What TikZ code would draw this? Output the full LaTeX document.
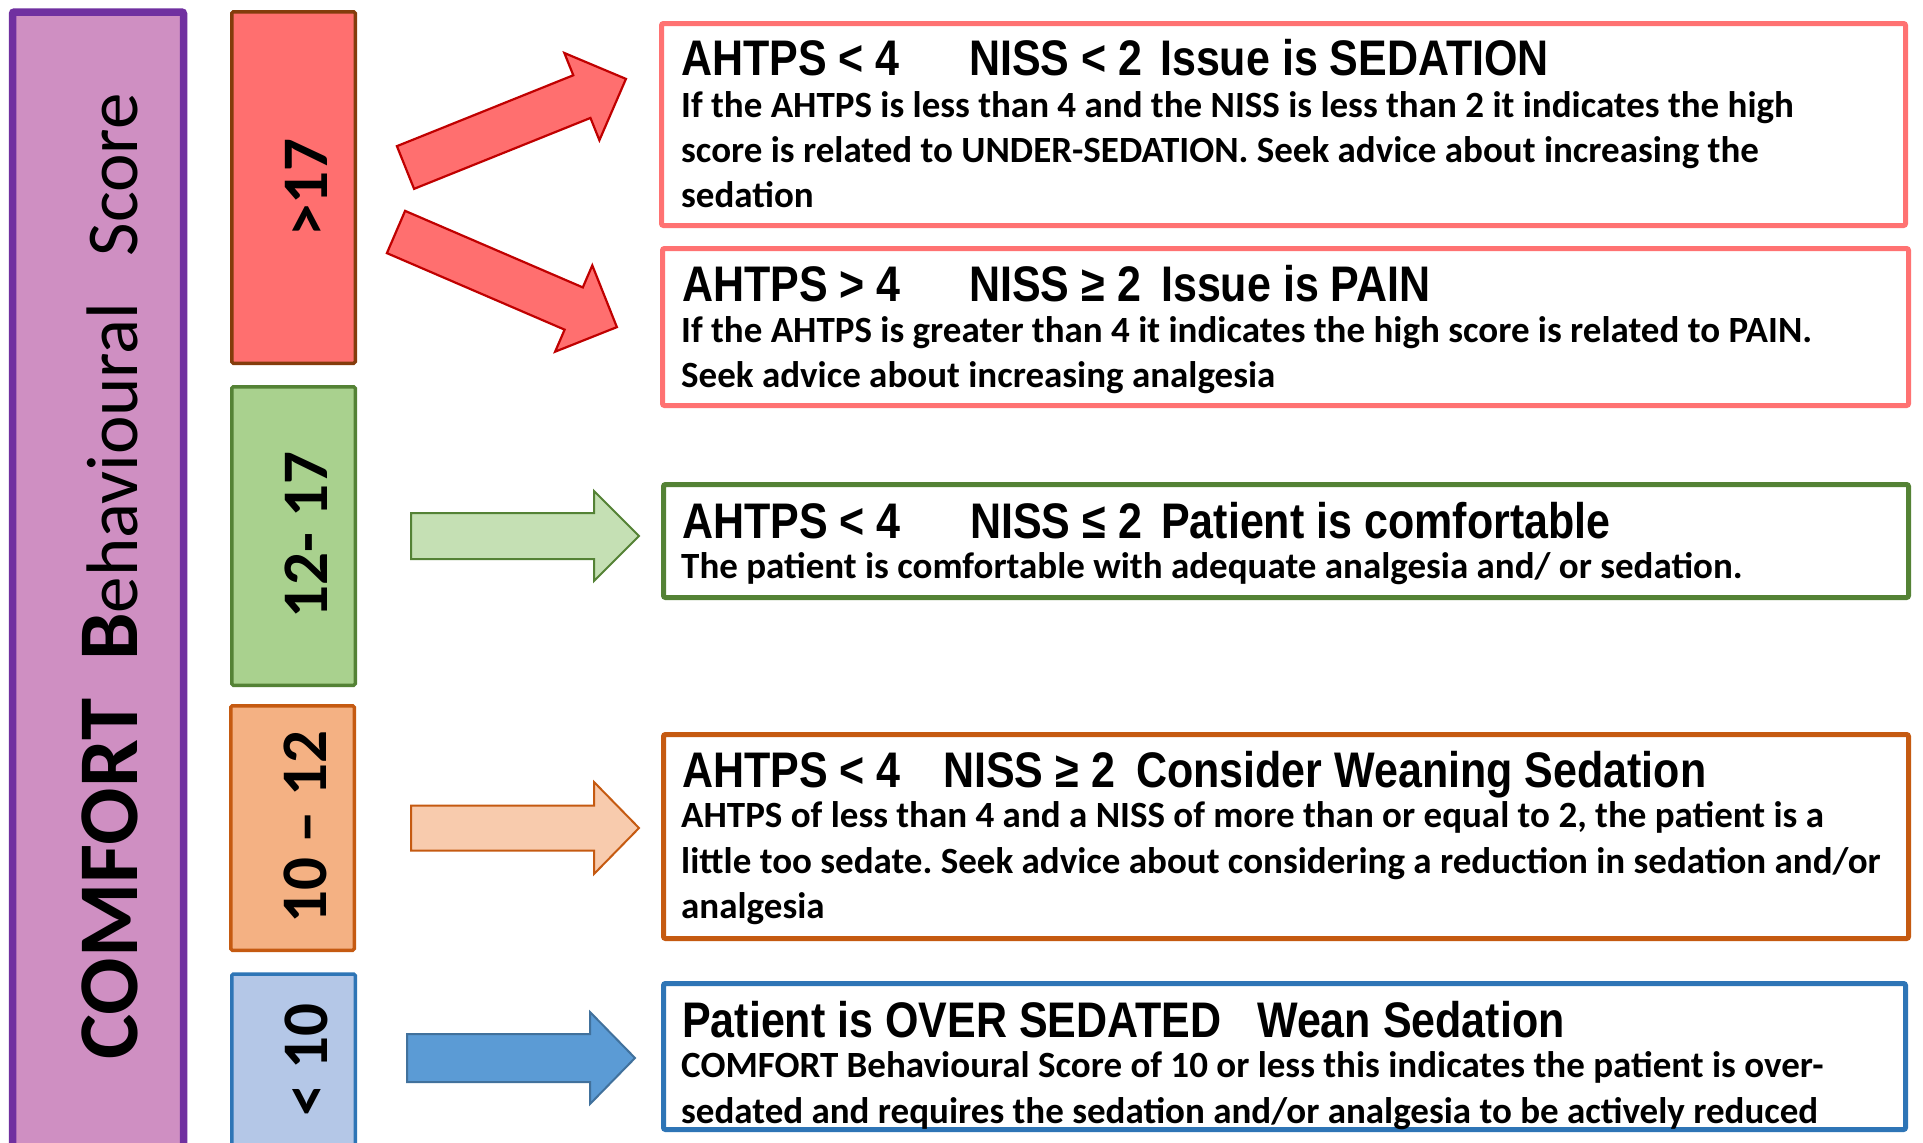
\documentclass[tikz,border=0pt]{standalone}
\usepackage{fontspec}
\setmainfont{Carlito}
\newfontfamily\titlefont[FakeStretch=0.86]{Liberation Sans}
\newfontfamily\calfont{Carlito}
\frenchspacing
\definecolor{purfill}{RGB}{207,143,194}
\definecolor{purline}{RGB}{112,48,160}
\definecolor{redfill}{RGB}{255,111,111}
\definecolor{redline}{RGB}{132,60,12}
\definecolor{redarrline}{RGB}{192,0,0}
\definecolor{redbox}{RGB}{255,114,114}
\definecolor{grnfill}{RGB}{169,209,142}
\definecolor{grnline}{RGB}{84,130,53}
\definecolor{grnarr}{RGB}{197,224,180}
\definecolor{orgfill}{RGB}{244,177,131}
\definecolor{orgline}{RGB}{197,90,17}
\definecolor{orgarr}{RGB}{248,203,173}
\definecolor{blufill}{RGB}{180,199,231}
\definecolor{bluline}{RGB}{46,117,182}
\definecolor{bluarr}{RGB}{91,155,213}
\definecolor{bluarrline}{RGB}{65,113,156}
\newcommand\blockarrow[8]{%
  \draw[#1, shift={(#2,#3)}, rotate=#4] (0,{-#6/2}) -- ({#5-#8},{-#6/2}) -- ({#5-#8},{-#7/2}) -- (#5,0) -- ({#5-#8},{#7/2}) -- ({#5-#8},{#6/2}) -- (0,{#6/2}) -- cycle;}
\begin{document}
\begin{tikzpicture}[x=1pt,y=-1pt,
  rangebox/.style={draw, line width=3.5pt, minimum width=123.5pt, inner sep=0, rounded corners=1.5pt},
  infobox/.style={draw, line width=5pt, fill=white, inner sep=0, rounded corners=2pt},
  rangelbl/.style={rotate=90, anchor=base, inner sep=0, font=\calfont\bfseries\fontsize{65}{70}\selectfont},
  ttl/.style={anchor=base west, inner sep=0, font=\titlefont\bfseries\fontsize{50}{60}\selectfont},
  body/.style={anchor=base west, inner sep=0, font=\calfont\bfseries\fontsize{37}{45}\selectfont},
  redarrow/.style={fill=redfill, draw=redarrline, line width=2.2pt, line join=miter},
  grnarrow/.style={fill=grnarr, draw=grnline, line width=2pt},
  orgarrow/.style={fill=orgarr, draw=orgline, line width=2pt},
  bluarrow/.style={fill=bluarr, draw=bluarrline, line width=2pt}
]
\useasboundingbox (0,0) rectangle (1923,1143);
\clip (0,0) rectangle (1923,1143);
\fill[white] (0,0) rectangle (1923,1143);

% main column
\node[draw=purline, fill=purfill, line width=7.5pt, minimum width=171pt, minimum height=1150pt, inner sep=0, rounded corners=2pt] (main) at (98,587) {};
\node[rotate=90, anchor=base west, inner sep=0] (mainlbl) at (137,1060)
  {{\bfseries\fontsize{85}{90}\selectfont COMFORT}\hspace{38pt}{\bfseries\fontsize{85}{90}\selectfont B}{\fontsize{73}{80}\selectfont ehavioural\hspace{46pt}Score}};

% range boxes
\node[rangebox, draw=redline, fill=redfill, minimum height=351.5pt] (r1) at (293.5,187.5) {};
\node[rangebox, draw=grnline, fill=grnfill, minimum height=298.5pt] (r2) at (293.5,536) {};
\node[rangebox, draw=orgline, fill=orgfill, minimum height=244.5pt] (r3) at (292.5,828) {};
\node[rangebox, draw=bluline, fill=blufill, minimum height=186pt] (r4) at (293.5,1067) {};
\node[rangelbl] (l1) at (327,187.5) {>17};
\node[rangelbl] (l2) at (327,535) {12- 17};
\node[rangelbl] (l3) at (326,827) {10 \textendash{} 12};
\node[rangelbl] (l4) at (327,1060) {< 10};

% info boxes
\node[infobox, draw=redbox, minimum width=1244pt, minimum height=202pt] (b1) at (1283.5,124.5) {};
\node[infobox, draw=redbox, minimum width=1246pt, minimum height=157pt] (b2) at (1285.5,327) {};
\node[infobox, draw=grnline, minimum width=1245pt, minimum height=113pt] (b3) at (1286,541) {};
\node[infobox, draw=orgline, minimum width=1245pt, minimum height=204pt] (b4) at (1286,836.5) {};
\node[infobox, draw=bluline, minimum width=1242pt, minimum height=146pt] (b5) at (1284.5,1056.5) {};

% arrows
\blockarrow{redarrow}{405.5}{167.5}{21.9}{237.6}{46}{94}{47.5}
\blockarrow{redarrow}{396}{232}{-23.3}{240.5}{46}{94}{47}
\blockarrow{grnarrow}{411}{536}{0}{228}{46}{90}{45}
\blockarrow{orgarrow}{411}{828}{0}{228}{45}{92}{45}
\blockarrow{bluarrow}{407}{1058}{0}{228}{48}{92}{45}

% box 1
\node[ttl] (t1a) at (681,75.6) {AHTPS < 4};
\node[ttl] (t1b) at (969,75.6) {NISS < 2};
\node[ttl] (t1c) at (1160,75.6) {Issue is SEDATION};
\node[body] (p1a) at (681,117.5) {If the AHTPS is less than 4 and the NISS is less than 2 it indicates the high};
\node[body] (p1b) at (681,162) {score is related to UNDER-SEDATION. Seek advice about increasing the};
\node[body] (p1c) at (681,207) {sedation};
% box 2
\node[ttl] (t2a) at (682,301.3) {AHTPS > 4};
\node[ttl] (t2b) at (969,301.3) {NISS ≥ 2};
\node[ttl] (t2c) at (1161,301.3) {Issue is PAIN};
\node[body] (p2a) at (681,342) {If the AHTPS is greater than 4 it indicates the high score is related to PAIN.};
\node[body] (p2b) at (681,387) {Seek advice about increasing analgesia};
% box 3
\node[ttl] (t3a) at (682,538) {AHTPS < 4};
\node[ttl] (t3b) at (970,538) {NISS ≤ 2};
\node[ttl] (t3c) at (1161,538) {Patient is comfortable};
\node[body] (p3a) at (681,578.6) {The patient is comfortable with adequate analgesia and/ or sedation.};
% box 4
\node[ttl] (t4a) at (682,787) {AHTPS < 4};
\node[ttl] (t4b) at (943,787) {NISS ≥ 2};
\node[ttl] (t4c) at (1136,787) {Consider Weaning Sedation};
\node[body] (p4a) at (681,827.6) {AHTPS of less than 4 and a NISS of more than or equal to 2, the patient is a};
\node[body] (p4b) at (681,873) {little too sedate. Seek advice about considering a reduction in sedation and/or};
\node[body] (p4c) at (681,918.3) {analgesia};
% box 5
\node[ttl] (t5a) at (682,1037) {Patient is OVER SEDATED};
\node[ttl] (t5b) at (1257,1037) {Wean Sedation};
\node[body] (p5a) at (681,1077.7) {COMFORT Behavioural Score of 10 or less this indicates the patient is over-};
\node[body] (p5b) at (681,1123) {sedated and requires the sedation and/or analgesia to be actively reduced};
\end{tikzpicture}
\end{document}
